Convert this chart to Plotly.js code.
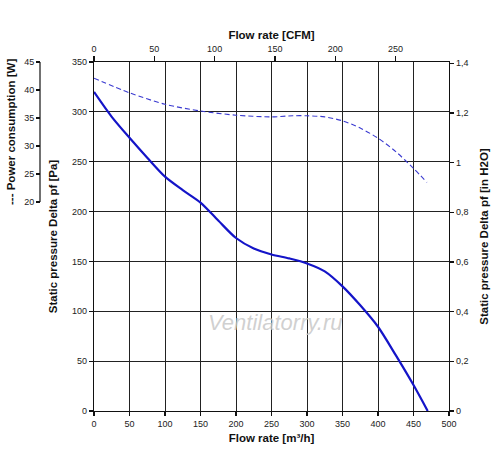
<!DOCTYPE html>
<html>
<head>
<meta charset="utf-8">
<script src="https://cdn.plot.ly/plotly-3.0.1.min.js"></script>
<style>html,body{margin:0;padding:0;background:#fff;}#chart{width:500px;height:473px;}</style>
</head>
<body>
<div id="chart"></div>
<script>
// Static pressure curve [Pa] vs flow rate [m3/h]
var flowPressure = [0,25,50,75,100,125,150,175,200,225,250,275,300,325,350,375,400,425,450,470];
var pressurePa   = [320,295,274,254,235,221.5,209,191,173.5,163,157,153,148,140,125,106,84.5,56,26,0];

// Power consumption curve [W] vs flow rate [m3/h]
var flowPower = [0,50,100,150,200,250,280,300,325,350,375,400,425,450,469];
var powerW    = [42.1,39.5,37.45,36.25,35.5,35.2,35.4,35.4,35.2,34.5,33.2,31.4,29.0,26.0,23.5];

// Axis ticks
var flowTicks  = [0,50,100,150,200,250,300,350,400,450,500];
var cfmTicks   = [0,50,100,150,200,250];
var paTicks    = [0,50,100,150,200,250,300,350];
var inH2OTicks = [0,0.2,0.4,0.6,0.8,1,1.2,1.4];
var powerTicks = [20,25,30,35,40,45];

var FONT = 'Liberation Sans, Arial, sans-serif';
var tickFont = {family: FONT, size: 9, color: '#222'};
var titleFont = {family: FONT, size: 11.5, color: '#111', weight: 'bold'};

var traces = [
  {x: flowPressure, y: pressurePa, type: 'scatter', mode: 'lines', xaxis: 'x', yaxis: 'y',
   line: {color: '#1414c8', width: 2.2, shape: 'spline', smoothing: 0.8}, hoverinfo: 'skip'},
  {x: flowPower, y: powerW, type: 'scatter', mode: 'lines', xaxis: 'x', yaxis: 'y3',
   line: {color: '#3a3ad0', width: 1.1, dash: '5px,3px', shape: 'spline', smoothing: 0.8}, hoverinfo: 'skip'},
  // invisible helper so the secondary axes are drawn
  {x: [0], y: [0], type: 'scatter', mode: 'markers', xaxis: 'x2', yaxis: 'y2',
   marker: {opacity: 0}, hoverinfo: 'skip'}
];

var axisCommon = {showline: true, linecolor: '#111', linewidth: 1.2, ticks: 'outside',
  ticklen: 4, tickwidth: 1.2, tickcolor: '#111', tickfont: tickFont, zeroline: false, fixedrange: true};

var pxPerW = 5.6;
var powerAxisPos = 10/419;

var layout = {
  width: 500, height: 473,
  margin: {l: 30, r: 51, t: 62, b: 62},
  paper_bgcolor: '#fff', plot_bgcolor: '#fff',
  showlegend: false,
  separators: ', ',
  xaxis: Object.assign({}, axisCommon, {
    domain: [64/419, 1], range: [0, 500], tickvals: flowTicks,
    showgrid: true, gridcolor: '#222', gridwidth: 1, anchor: 'y',
    title: {text: 'Flow rate [m³/h]', font: titleFont, standoff: 6}
  }),
  xaxis2: Object.assign({}, axisCommon, {
    overlaying: 'x', side: 'top', anchor: 'y', range: [0, 500/1.699], tickvals: cfmTicks,
    showgrid: false, ticklen: 5,
    title: {text: 'Flow rate [CFM]', font: titleFont, standoff: 2}
  }),
  yaxis: Object.assign({}, axisCommon, {
    domain: [0, 1], range: [0, 350], tickvals: paTicks, showgrid: true, gridcolor: '#222', gridwidth: 1,
    anchor: 'x',
    title: {text: 'Static pressure Delta pf [Pa]', font: titleFont, standoff: 12}
  }),
  yaxis2: Object.assign({}, axisCommon, {
    overlaying: 'y', side: 'right', anchor: 'x', range: [0, 350/249.09], tickvals: inH2OTicks,
    showgrid: false,
    title: {text: 'Static pressure Delta pf [in H2O]', font: titleFont, standoff: 12}
  }),
  yaxis3: Object.assign({}, axisCommon, {
    overlaying: 'y', range: [45 - 349/pxPerW, 45], tickvals: powerTicks, anchor: 'free',
    position: powerAxisPos, side: 'left', showgrid: false, showline: false
  }),
  shapes: [
    {type: 'line', xref: 'paper', yref: 'y3', x0: powerAxisPos, x1: powerAxisPos,
     y0: powerTicks[0], y1: powerTicks[powerTicks.length-1], line: {color: '#111', width: 1.2}}
  ],
  annotations: [
    {text: '--- Power consumption [W]', xref: 'paper', yref: 'y3',
     x: (11-30)/419, y: 32.5, textangle: -90, showarrow: false,
     xanchor: 'center', yanchor: 'middle', font: titleFont},
    {text: '<i>Ventilatorry.ru</i>', xref: 'paper', yref: 'paper',
     x: (345-30)/419, y: (411-337)/349, showarrow: false,
     font: {family: FONT, size: 22, color: 'rgba(200,200,200,0.85)'}}
  ]
};

Plotly.newPlot('chart', traces, layout, {displayModeBar: false, staticPlot: true});
</script>
</body>
</html>
